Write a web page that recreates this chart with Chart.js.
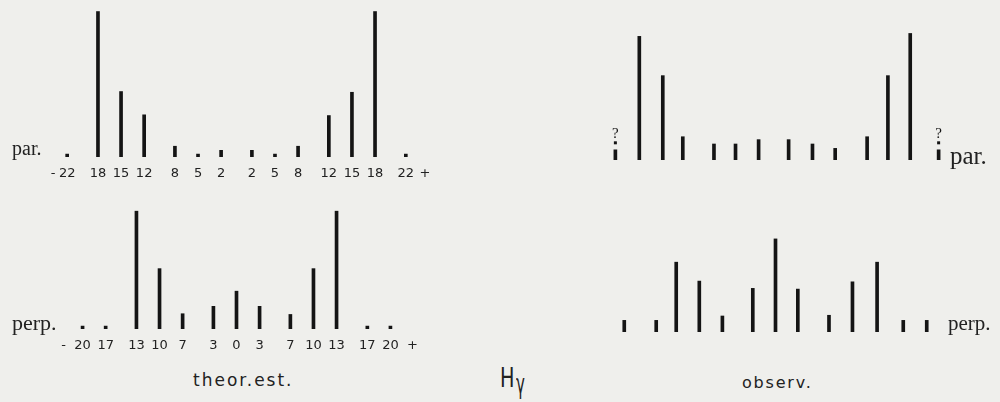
<!DOCTYPE html>
<html>
<head>
<meta charset="utf-8">
<script src="https://cdn.jsdelivr.net/npm/chart.js@4/dist/chart.umd.min.js"></script>
<style>
  html, body { margin: 0; padding: 0; }
  body { width: 1000px; height: 402px; overflow: hidden; background: #efefec; position: relative; color: #222; }
  canvas { position: absolute; }
  .t { position: absolute; white-space: nowrap; line-height: 1; }
  .serif { font-family: 'Liberation Serif', 'DejaVu Serif', serif; }
  .sans { font-family: 'DejaVu Sans', sans-serif; }
</style>
</head>
<body>
<canvas id="parTheor" width="431" height="190" style="left:21px;top:-3px"></canvas>
<canvas id="perpTheor" width="431" height="190" style="left:21px;top:169px"></canvas>
<canvas id="parObs" width="431" height="190" style="left:560px;top:0px"></canvas>
<canvas id="perpObs" width="431" height="190" style="left:560px;top:172px"></canvas>

<script>
// Hγ — composantes (positions en unités, intensités relatives 0–100)
const parTheorPos = [-22, -18, -15, -12, -8, -5, -2, 2, 5, 8, 12, 15, 18, 22];
const parTheorVal = [2, 100, 45, 29, 7.4, 2, 4.6, 4.6, 2, 7.4, 28.5, 44.5, 100, 2];

const perpTheorPos = [-20, -17, -13, -10, -7, -3, 0, 3, 7, 10, 13, 17, 20];
const perpTheorVal = [2, 2, 81, 41.5, 10.5, 15.6, 26, 15.6, 10, 41.5, 81, 2, 2];

const parObsPos = [-17.5, -14.45, -11.85, -7.8, -5, -2, 1.9, 5, 7.95, 12.1, 14.8, 17.7];
const parObsVal = [85, 58, 16, 11, 11, 14, 14, 11, 8, 16, 58, 87];
// lignes douteuses (marquées « ? »)
const parObsQueryPos = [-21, 21];
const parObsQueryVal = [7, 7];

const perpObsPos = [-19.65, -15.5, -12.9, -9.9, -6.9, -2.95, 0, 2.9, 6.95, 10, 13.2, 16.6, 19.65];
const perpObsVal = [8, 8, 48, 35, 11, 30, 64, 29.5, 11.5, 34.5, 48, 8, 8];

const parTicks = parTheorPos;
const perpTicks = perpTheorPos;

const INK = '#141414', TXT = '#222';
const TICK_PAD = 9;

Chart.defaults.font.family = "'DejaVu Sans', sans-serif";
Chart.defaults.color = TXT;

// « - » avant la première graduation, « + » après la dernière
const endMarks = {
  id: 'endMarks',
  afterDraw(chart, args, o) {
    if (o.left == null) return;
    const s = chart.scales.x, t = s.ticks, ctx = chart.ctx;
    const y = s.top + TICK_PAD + 13 * 1.2 / 2;
    ctx.save();
    ctx.font = "13px 'DejaVu Sans', sans-serif";
    ctx.fillStyle = TXT; ctx.textAlign = 'center'; ctx.textBaseline = 'middle';
    ctx.fillText('-', s.getPixelForValue(t[0].value) + o.left, y);
    ctx.fillText('+', s.getPixelForValue(t[t.length - 1].value) + o.right, y);
    ctx.restore();
  },
};

// point et « ? » au-dessus des lignes douteuses (dataset 1)
const query = {
  id: 'query',
  afterDatasetsDraw(chart, args, o) {
    if (!o.on) return;
    const meta = chart.getDatasetMeta(1), ctx = chart.ctx;
    ctx.save();
    ctx.fillStyle = INK;
    ctx.font = "15px 'Liberation Serif', serif";
    ctx.textAlign = 'center'; ctx.textBaseline = 'alphabetic';
    meta.data.forEach((b) => {
      ctx.fillRect(b.x - 1.5, b.y - 8.5, 3, 3);
      ctx.fillText('?', b.x, b.y - 12);
    });
    ctx.restore();
  },
};

function panel(id, pos, val, ticks, opt = {}) {
  const datasets = [{ data: pos.map((x, i) => ({ x, y: val[i] })), backgroundColor: INK, barThickness: 3 }];
  if (opt.qPos) datasets.push({ data: opt.qPos.map((x, i) => ({ x, y: opt.qVal[i] })), backgroundColor: INK, barThickness: 3 });
  return new Chart(document.getElementById(id), {
    type: 'bar',
    data: { datasets },
    options: {
      responsive: false, animation: false, events: [],
      layout: { padding: 0 },
      plugins: {
        legend: { display: false }, tooltip: { enabled: false },
        endMarks: opt.ends || {}, query: { on: !!opt.qPos },
      },
      scales: {
        x: {
          type: 'linear', min: -28, max: 28, offset: false,
          grid: { display: false, drawTicks: false }, border: { display: false },
          afterBuildTicks: (s) => { s.ticks = ticks.map((v) => ({ value: v })); },
          afterFit: (s) => { s.height = 30; },
          ticks: {
            display: ticks.length > 0, padding: TICK_PAD, autoSkip: false, maxRotation: 0,
            font: { size: 13 }, color: TXT, callback: (v) => String(Math.abs(v)),
          },
        },
        y: { display: false, min: 0, max: 110 },
      },
    },
    plugins: [endMarks, query],
  });
}

panel('parTheor', parTheorPos, parTheorVal, parTicks, { ends: { left: -14, right: 19 } });
panel('perpTheor', perpTheorPos, perpTheorVal, perpTicks, { ends: { left: -19, right: 22 } });
panel('parObs', parObsPos, parObsVal, [], { qPos: parObsQueryPos, qVal: parObsQueryVal });
panel('perpObs', perpObsPos, perpObsVal, []);

// textes libres : (texte, x, ligne de base, taille, classe, style en plus)
function label(text, x, base, size, cls, extra = '') {
  const d = document.createElement('div');
  d.className = 't ' + cls;
  d.textContent = text;
  d.style.cssText = `left:${x}px;top:${base - 0.84 * size}px;font-size:${size}px;${extra}`;
  document.body.appendChild(d);
  return d;
}
label('par.', 12, 155, 20, 'serif');
label('perp.', 12, 330, 22, 'serif');
label('par.', 950, 163.5, 25, 'serif');
label('perp.', 948, 330.5, 21, 'serif');
label('theor.est.', 193, 386, 17, 'sans', 'letter-spacing:2px');
label('observ.', 742, 388, 16, 'sans', 'letter-spacing:1.8px');
label('H', 500, 387, 26, 'sans', 'transform:scaleX(0.74);transform-origin:left');
label('γ', 516, 394, 20, 'sans', 'transform:scale(0.75,1.35);transform-origin:left bottom');
</script>
</body>
</html>
